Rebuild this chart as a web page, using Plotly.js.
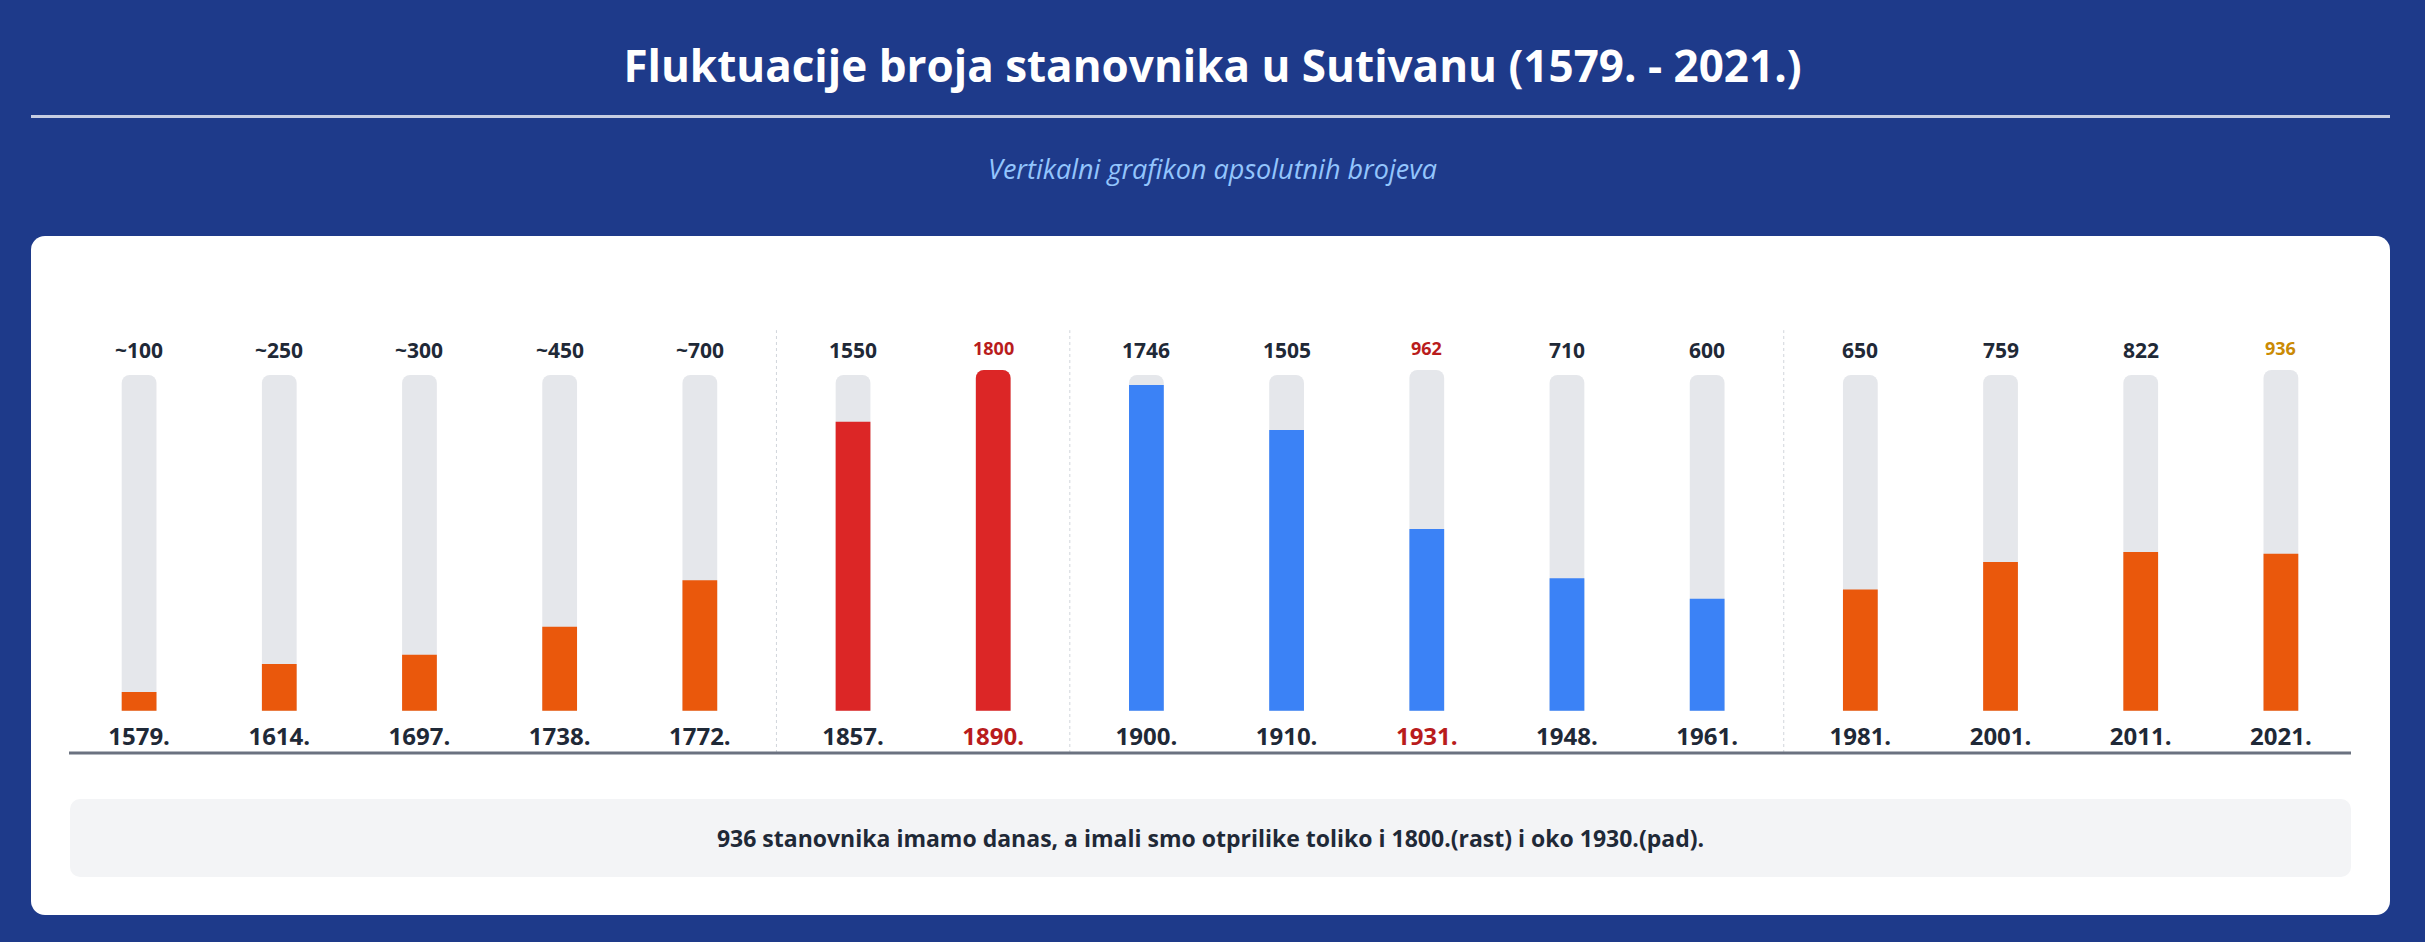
<!DOCTYPE html>
<html>
<head>
<meta charset="utf-8">
<script src="https://cdn.plot.ly/plotly-3.0.1.min.js"></script>
<style>
  html, body { margin: 0; padding: 0; }
  body {
    width: 2425px; height: 942px; overflow: hidden; position: relative;
    background: #1e3a8a; font-family: "Open Sans", "Noto Sans", sans-serif;
  }
  h1 {
    position: absolute; left: 0; width: 100%; top: 36px; margin: 0;
    text-align: center; color: #fff; font-size: 44px; font-weight: 700; line-height: 58px;
  }
  .rule { position: absolute; left: 31px; width: 2359px; top: 115px; height: 3px; background: rgba(255,255,255,0.75); }
  .sub {
    position: absolute; left: 0; width: 100%; top: 150px; margin: 0;
    text-align: center; color: #93c5fd; font-size: 27px; font-style: italic; line-height: 38px;
  }
  .card { position: absolute; left: 31px; top: 236px; width: 2359px; height: 679px; background: #fff; border-radius: 14px; }
  #chart { position: absolute; left: 31px; top: 236px; width: 2359px; height: 560px; }
  .note {
    position: absolute; left: 70px; width: 2281px; top: 799px; height: 78px; border-radius: 10px;
    background: #f3f4f6; color: #1f2937; font-size: 23px; font-weight: 700;
    display: flex; align-items: center; justify-content: center;
  }
</style>
</head>
<body>
<h1>Fluktuacije broja stanovnika u Sutivanu (1579. - 2021.)</h1>
<div class="rule"></div>
<p class="sub">Vertikalni grafikon apsolutnih brojeva</p>
<div class="card"></div>
<div id="chart"></div>
<div class="note">936 stanovnika imamo danas, a imali smo otprilike toliko i 1800.(rast) i oko 1930.(pad).</div>
<script>
// census years (x categories)
const years = ["1579.","1614.","1697.","1738.","1772.","1857.","1890.","1900.","1910.","1931.","1948.","1961.","1981.","2001.","2011.","2021."];
// printed value labels above the bars
const valueLabels = ["~100","~250","~300","~450","~700","1550","1800","1746","1505","962","710","600","650","759","822","936"];
// bar heights as drawn in the picture
const barHeights = [100, 250, 300, 450, 700, 1550, 1827, 1746, 1505, 974, 710, 600, 650, 797, 851, 842];
// grey track heights (highlighted columns are drawn a bit taller)
const trackHeights = [1800, 1800, 1800, 1800, 1800, 1800, 1827, 1800, 1800, 1827, 1800, 1800, 1800, 1800, 1800, 1827];
// period group of each column
const groups = [0,0,0,0,0, 1,1, 2,2,2,2,2, 3,3,3,3];
const groupColors = ["#ea580c", "#dc2626", "#3b82f6", "#ea580c"];
// highlight colour of value label / year label ("" = normal)
const valueHighlight = ["","","","","","","#b91c1c","","","#b91c1c","","","","","","#ca8a04"];
const yearHighlight  = ["","","","","","","#b91c1c","","","#b91c1c","","","","","",""];

const DARK = "#1f2937";
const FONT = "Open Sans, Noto Sans, sans-serif";
const nGroups = groupColors.length;
const counts = [];
for (let g = 0; g < nGroups; g++) counts.push(groups.filter(v => v === g).length);

// domains: equal slot per column, small gap between periods
const plotW = 2359 - 38 - 39;
const gapFrac = 13 / plotW;
const slotFrac = (1 - gapFrac * (nGroups - 1)) / years.length;
const domains = [];
let pos = 0;
counts.forEach(c => { domains.push([pos, pos + c * slotFrac]); pos += c * slotFrac + gapFrac; });

const traces = [], annotations = [], shapes = [];
const layout = {
  width: 2359, height: 560,
  margin: { l: 38, r: 39, t: 134, b: 43 },
  paper_bgcolor: "rgba(0,0,0,0)", plot_bgcolor: "rgba(0,0,0,0)",
  barmode: "overlay", bargap: 0.752, showlegend: false,
  font: { family: FONT, color: DARK },
  yaxis: { range: [-227, 1827], visible: false, fixedrange: true }
};

for (let g = 0; g < nGroups; g++) {
  const idx = groups.map((v, i) => v === g ? i : -1).filter(i => i >= 0);
  const xs = idx.map(i => years[i]);
  const ax = g === 0 ? "x" : "x" + (g + 1);
  const axKey = g === 0 ? "xaxis" : "xaxis" + (g + 1);

  traces.push({
    type: "bar", x: xs, y: idx.map(i => trackHeights[i]), xaxis: ax, yaxis: "y",
    marker: { color: "#e5e7eb", cornerradius: 8 }, hoverinfo: "skip", cliponaxis: false
  });
  traces.push({
    type: "bar", x: xs, y: idx.map(i => barHeights[i]), xaxis: ax, yaxis: "y",
    marker: { color: groupColors[g], cornerradius: 8 }, cliponaxis: false,
    text: idx.map(i => valueLabels[i]), textposition: "none",
    hovertemplate: "%{x}: %{text}<extra></extra>"
  });

  layout[axKey] = {
    domain: domains[g], anchor: "y", type: "category",
    categoryorder: "array", categoryarray: xs,
    range: [-0.5, xs.length - 0.5], autorange: false,
    showgrid: false, zeroline: false, showline: false, ticks: "",
    ticklabelposition: "inside",
    tickvals: xs,
    ticktext: idx.map(i => yearHighlight[i] ? `<span style="color:${yearHighlight[i]}">${years[i]}</span>` : years[i]),
    tickfont: { family: FONT, size: 24, color: DARK, weight: 700 },
    fixedrange: true
  };

  // value labels sit above each grey track (x = category position in its group)
  idx.forEach((i, k) => {
    const hl = valueHighlight[i];
    annotations.push({
      xref: ax, yref: "y", x: k, y: trackHeights[i],
      text: valueLabels[i], showarrow: false, yanchor: "middle", yshift: hl ? 22 : 25,
      font: { family: FONT, size: hl ? 18 : 21, color: hl || DARK, weight: 700 }
    });
  });

  // dashed separator between periods
  if (g < nGroups - 1) {
    const xSep = domains[g][1] + gapFrac / 2;
    shapes.push({
      type: "line", xref: "paper", yref: "paper", x0: xSep, x1: xSep, y0: 0, y1: 1.104,
      line: { color: "#d1d5db", width: 1, dash: "3px,3px" }
    });
  }
}

// base line
shapes.push({
  type: "line", xref: "paper", yref: "paper", x0: 0, x1: 1, y0: 0, y1: 0,
  line: { color: "#6b7280", width: 3 }
});

layout.annotations = annotations;
layout.shapes = shapes;

Plotly.newPlot("chart", traces, layout, { displayModeBar: false });
</script>
</body>
</html>
